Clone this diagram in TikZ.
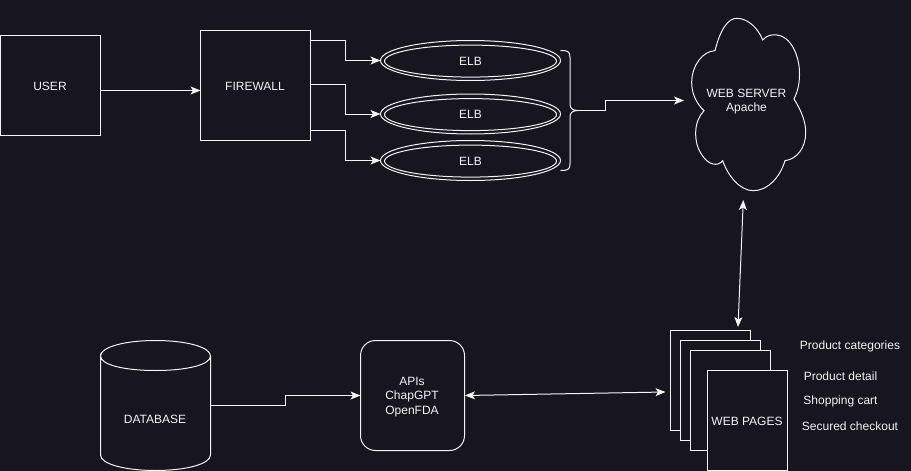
\documentclass[tikz,border=0pt]{standalone}
\usepackage{fontspec}
\setmainfont{Liberation Sans}
\usetikzlibrary{shapes.geometric,arrows.meta}
\definecolor{bgc}{HTML}{17151E}
\definecolor{fgc}{HTML}{F4F4F4}
\tikzset{
  base/.style={draw=fgc,line width=1pt,text=fgc,font=\fontsize{12}{14}\selectfont,align=center,inner sep=0pt,outer sep=0pt},
  box/.style={base,rectangle,minimum width=#1},
  page/.style={base,rectangle,fill=bgc,minimum width=80pt,minimum height=100pt},
  elbouter/.style={base,ellipse,minimum width=180pt,minimum height=40pt},
  elbinner/.style={base,ellipse,minimum width=172pt,minimum height=32pt},
  txt/.style={text=fgc,font=\fontsize{12}{14.5}\selectfont,align=center,inner sep=0pt},
  link/.style={draw=fgc,line width=1pt,-{Stealth[length=10pt,width=8pt,inset=2.5pt]}},
  biglink/.style={draw=fgc,line width=1pt,{Stealth[length=10pt,width=8pt,inset=2.5pt]}-{Stealth[length=10pt,width=8pt,inset=2.5pt]}},
  shape line/.style={draw=fgc,line width=1pt}
}
\begin{document}
\begin{tikzpicture}[x=1pt,y=-1pt]
\useasboundingbox (0,0) rectangle (911,471);
\fill[bgc] (0,0) rectangle (911,471);

% user and firewall
\node[box=100pt,minimum height=100pt] (user) at (50.5,85.5) {};
\node[txt] (usert) at (50,86.5) {USER};
\node[box=110pt,minimum height=110pt] (fw) at (255.5,85.5) {};
\node[txt] (fwt) at (255,86) {FIREWALL};

% load balancers
\node[elbouter] (e1o) at (470.5,60.5) {};
\node[elbinner,yshift=-0.6pt] (e1) at (470.5,60.5) {ELB};
\node[elbouter] (e2o) at (470.5,114) {};
\node[elbinner,yshift=-0.6pt] (e2) at (470.5,114) {ELB};
\node[elbouter] (e3o) at (470.5,160.5) {};
\node[elbinner,yshift=-0.6pt] (e3) at (470.5,160.5) {ELB};

% connectors, top row
\draw[link] (user.east |- 0,90.5) -- (fw.west |- 0,90.5);
\draw[link] ([yshift=-10pt]fw.north east) -- ++(35,0) |- (e1o.west);
\draw[link] ([yshift=-54pt]fw.north east) -- ++(35,0) |- (e2o.west);
\draw[link] ([yshift=-100pt]fw.north east) -- ++(35,0) |- (e3o.west);

% brace
\coordinate (bracetip) at (578,110.5);
\draw[shape line] (560.5,50.5) .. controls (567,50.5) and (570,51) .. (570,57)
  -- (570,104) .. controls (570,108) and (572,110.5) .. (bracetip)
  .. controls (572,110.5) and (570,113) .. (570,117)
  -- (570,164) .. controls (570,170) and (567,170.5) .. (560.5,170.5);

% cloud
\draw[shape line] (715,50.7)
  .. controls (720,30) and (728,18) .. (737,18.3)
  .. controls (748,18.5) and (758,28) .. (762.7,40)
  .. controls (767,35) and (772,34.5) .. (777,35)
  .. controls (790,36) and (800,55) .. (799.5,75)
  .. controls (799.5,85) and (797,93) .. (794,99)
  .. controls (801,110) and (806,122) .. (805.7,133)
  .. controls (805.5,148) and (797,159) .. (785,160.7)
  .. controls (780,177) and (768,190.7) .. (753.3,190.7)
  .. controls (740,190.7) and (728,176) .. (722.7,160.7)
  .. controls (718,167) and (708,165) .. (702,155)
  .. controls (697,148) and (695.5,140) .. (695.7,132)
  .. controls (696,123) and (699,116) .. (704,110.7)
  .. controls (696,103) and (691.5,93) .. (691.7,82)
  .. controls (692,65) and (703,51) .. (715,50.7) -- cycle;
\node[txt] (web) at (746.5,101.5) {WEB SERVER\\Apache};
\coordinate (webin) at (684,100.5);
\coordinate (webbottom) at (743.3,200);
\draw[link] (bracetip) -- (605.5,110.5) -- (605.5,100.5) -- (webin);

% web pages
\node[page] (p1) at (710.5,380.5) {};
\node[page] (p2) at (720.5,390.5) {};
\node[page] (p3) at (730.5,400.5) {};
\node[page] (p4) at (747,420.5) {};
\node[txt] (p4t) at (747,421) {WEB PAGES};
\coordinate (pagestop) at (738,327);
\coordinate (pagesleft) at (665.5,392);
\draw[biglink] (webbottom) -- (pagestop);

\node[txt] (l1) at (850,346) {Product categories};
\node[txt] (l2) at (840.5,376.5) {Product detail};
\node[txt] (l3) at (840.5,401.5) {Shopping cart};
\node[txt] (l4) at (850,426.5) {Secured checkout};

% APIs
\node[base,rectangle,rounded corners=15pt,minimum width=104pt,minimum height=110pt] (api) at (412.5,395.5) {};
\node[txt] (apit) at (412,397) {APIs\\ChapGPT\\OpenFDA};
\draw[biglink] ([xshift=0.5pt]api.east) -- (pagesleft);

% database
\draw[shape line] (100.5,356) .. controls (100.5,347) and (125,340.5) .. (155.5,340.5)
  .. controls (186,340.5) and (210.5,347) .. (210.5,356)
  .. controls (210.5,365) and (186,370.5) .. (155.5,370.5)
  .. controls (125,370.5) and (100.5,365) .. (100.5,356)
  -- (100.5,455) .. controls (100.5,464) and (125,470.5) .. (155.5,470.5)
  .. controls (186,470.5) and (210.5,464) .. (210.5,455) -- (210.5,356);
\node[txt] (db) at (155,419) {DATABASE};
\coordinate (dbout) at (210.5,405.5);
\draw[link] (dbout) -- (285.5,405.5) -- (285.5,395.5) -- (api.west);
\end{tikzpicture}
\end{document}
